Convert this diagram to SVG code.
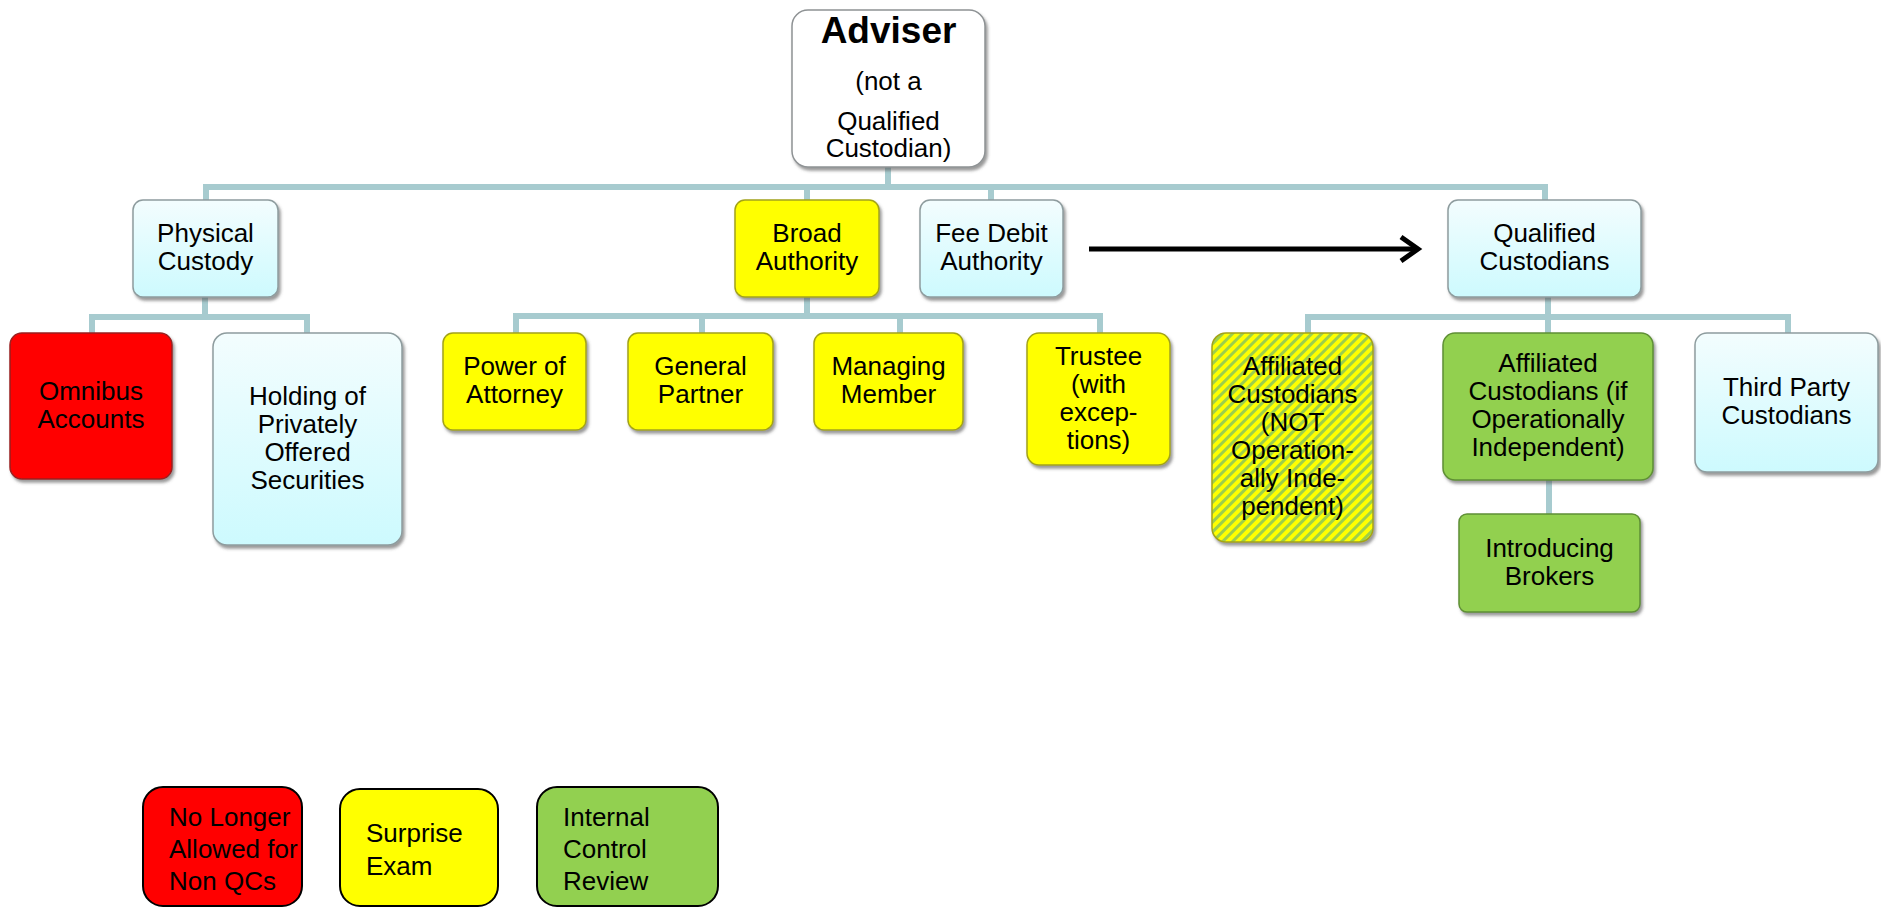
<svg xmlns="http://www.w3.org/2000/svg" width="1881" height="907" viewBox="0 0 1881 907">
<style>
.t{font-family:"Liberation Sans",Arial,sans-serif;font-size:26px;text-anchor:middle;fill:#000}
.lt{font-family:"Liberation Sans",Arial,sans-serif;font-size:26px;fill:#000}
.b{font-weight:bold;font-size:37px}
.cy{fill:url(#gc);stroke:#8e9c9e;stroke-width:1.5}
.wh{fill:#ffffff;stroke:#8e9294;stroke-width:1.5}
.ye{fill:#ffff00;stroke:#a3a318;stroke-width:1.5}
.rd{fill:#ff0000;stroke:#9a2020;stroke-width:1.5}
.gr{fill:#92d050;stroke:#5f8f35;stroke-width:1.5}
.ha{fill:url(#hatch);stroke:#a3a318;stroke-width:1.5}
.lg{stroke:#000;stroke-width:2}
.sh{filter:url(#ds)}
.con{fill:none;stroke:#a7cbcf;stroke-width:6}
.arr{fill:none;stroke:#000;stroke-width:5}
</style>
<defs>
<linearGradient id="gc" x1="0" y1="0" x2="0" y2="1">
<stop offset="0" stop-color="#f3fdfe"/>
<stop offset="1" stop-color="#cdfafe"/>
</linearGradient>
<pattern id="hatch" width="7" height="7" patternUnits="userSpaceOnUse" patternTransform="rotate(-45)">
<rect width="7" height="7" fill="#ffff00"/>
<rect width="7" height="3" fill="#9ccf4c"/>
</pattern>
<filter id="ds" x="-10%" y="-10%" width="125%" height="125%">
<feDropShadow dx="2" dy="3" stdDeviation="1.5" flood-color="#555" flood-opacity="0.6"/>
</filter>
<marker id="ah" markerWidth="10" markerHeight="10" refX="7" refY="5" orient="auto" markerUnits="userSpaceOnUse" viewBox="0 0 10 10" overflow="visible">
<path d="M-10,-7 L7,5 L-10,17" fill="none" stroke="#000" stroke-width="5" stroke-linejoin="miter"/>
</marker>
</defs>
<rect width="1881" height="907" fill="#ffffff"/>
<g id="connectors">
<path class="con" d="M206,200 V187 H1545 V200 M807,187 V200 M991,187 V200 M888,167 V187"/>
<path class="con" d="M92,333 V317 H307 V333 M205,297 V317"/>
<path class="con" d="M516,333 V316 H1100 V333 M702,316 V333 M900,316 V333 M807,297 V316"/>
<path class="con" d="M1308,333 V317 H1788 V333 M1548,297 V333"/>
<path class="con" d="M1549,480 V514"/>
<path class="arr" d="M1089,249 H1418" marker-end="url(#ah)"/>
</g>
<g id="adviser">
<rect class="wh sh" x="792" y="10" width="193" height="157" rx="16"/>
<text class="t b" x="888.5" y="43">Adviser</text>
<text class="t" x="888.5" y="90">(not a</text>
<text class="t" x="888.5" y="130">Qualified</text>
<text class="t" x="888.5" y="157">Custodian)</text>
</g>
<g id="physical-custody">
<rect class="cy sh" x="133" y="200" width="145" height="97" rx="10"/>
<text class="t" x="205.5" y="242">Physical</text>
<text class="t" x="205.5" y="270">Custody</text>
</g>
<g id="broad-authority">
<rect class="ye sh" x="735" y="200" width="144" height="97" rx="10"/>
<text class="t" x="807" y="242">Broad</text>
<text class="t" x="807" y="270">Authority</text>
</g>
<g id="fee-debit-authority">
<rect class="cy sh" x="920" y="200" width="143" height="97" rx="10"/>
<text class="t" x="991.5" y="242">Fee Debit</text>
<text class="t" x="991.5" y="270">Authority</text>
</g>
<g id="qualified-custodians">
<rect class="cy sh" x="1448" y="200" width="193" height="97" rx="10"/>
<text class="t" x="1544.5" y="242">Qualified</text>
<text class="t" x="1544.5" y="270">Custodians</text>
</g>
<g id="omnibus-accounts">
<rect class="rd sh" x="10" y="333" width="162" height="146" rx="12"/>
<text class="t" x="91" y="399.5">Omnibus</text>
<text class="t" x="91" y="427.5">Accounts</text>
</g>
<g id="holding-privately-offered">
<rect class="cy sh" x="213" y="333" width="189" height="212" rx="14"/>
<text class="t" x="307.5" y="404.5">Holding of</text>
<text class="t" x="307.5" y="432.5">Privately</text>
<text class="t" x="307.5" y="460.5">Offered</text>
<text class="t" x="307.5" y="488.5">Securities</text>
</g>
<g id="power-of-attorney">
<rect class="ye sh" x="443" y="333" width="143" height="97" rx="10"/>
<text class="t" x="514.5" y="375">Power of</text>
<text class="t" x="514.5" y="403">Attorney</text>
</g>
<g id="general-partner">
<rect class="ye sh" x="628" y="333" width="145" height="97" rx="10"/>
<text class="t" x="700.5" y="375">General</text>
<text class="t" x="700.5" y="403">Partner</text>
</g>
<g id="managing-member">
<rect class="ye sh" x="814" y="333" width="149" height="97" rx="10"/>
<text class="t" x="888.5" y="375">Managing</text>
<text class="t" x="888.5" y="403">Member</text>
</g>
<g id="trustee">
<rect class="ye sh" x="1027" y="333" width="143" height="132" rx="12"/>
<text class="t" x="1098.5" y="364.5">Trustee</text>
<text class="t" x="1098.5" y="392.5">(with</text>
<text class="t" x="1098.5" y="420.5">excep-</text>
<text class="t" x="1098.5" y="448.5">tions)</text>
</g>
<g id="affiliated-not-independent">
<rect class="ha sh" x="1212" y="333" width="161" height="209" rx="14"/>
<text class="t" x="1292.5" y="375">Affiliated</text>
<text class="t" x="1292.5" y="403">Custodians</text>
<text class="t" x="1292.5" y="431">(NOT</text>
<text class="t" x="1292.5" y="459">Operation-</text>
<text class="t" x="1292.5" y="487">ally Inde-</text>
<text class="t" x="1292.5" y="515">pendent)</text>
</g>
<g id="affiliated-independent">
<rect class="gr sh" x="1443" y="333" width="210" height="147" rx="12"/>
<text class="t" x="1548" y="372">Affiliated</text>
<text class="t" x="1548" y="400">Custodians (if</text>
<text class="t" x="1548" y="428">Operationally</text>
<text class="t" x="1548" y="456">Independent)</text>
</g>
<g id="third-party-custodians">
<rect class="cy sh" x="1695" y="333" width="183" height="139" rx="12"/>
<text class="t" x="1786.5" y="396">Third Party</text>
<text class="t" x="1786.5" y="424">Custodians</text>
</g>
<g id="introducing-brokers">
<rect class="gr sh" x="1459" y="514" width="181" height="98" rx="8"/>
<text class="t" x="1549.5" y="556.5">Introducing</text>
<text class="t" x="1549.5" y="584.5">Brokers</text>
</g>
<g id="legend-red">
<rect class="rd lg" x="143" y="787" width="159" height="119" rx="20"/>
<text class="lt" x="169" y="826">No Longer</text>
<text class="lt" x="169" y="858">Allowed for</text>
<text class="lt" x="169" y="890">Non QCs</text>
</g>
<g id="legend-yellow">
<rect class="ye lg" x="340" y="789" width="158" height="117" rx="20"/>
<text class="lt" x="366" y="842">Surprise</text>
<text class="lt" x="366" y="875">Exam</text>
</g>
<g id="legend-green">
<rect class="gr lg" x="537" y="787" width="181" height="119" rx="20"/>
<text class="lt" x="563" y="826">Internal</text>
<text class="lt" x="563" y="858">Control</text>
<text class="lt" x="563" y="890">Review</text>
</g>
</svg>
